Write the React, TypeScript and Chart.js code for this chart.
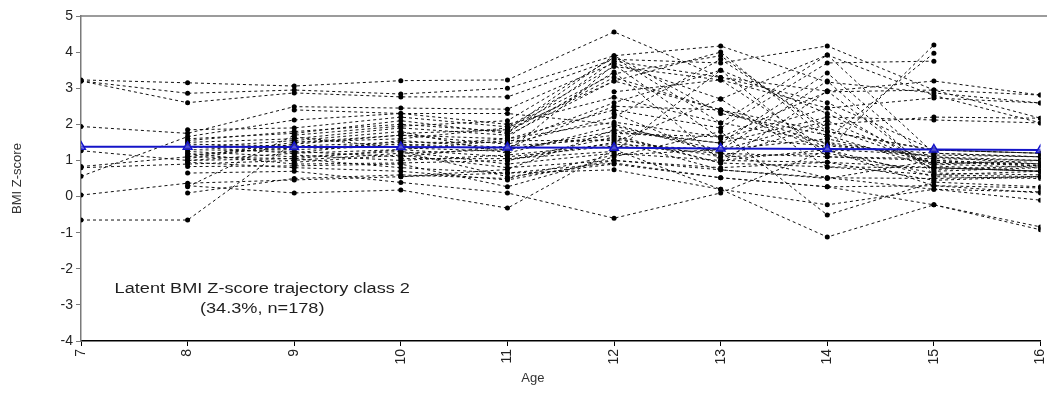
import React, { useEffect, useRef } from "react";
import { Chart, registerables } from "chart.js";

Chart.register(...registerables);

const AGES = [7, 8, 9, 10, 11, 12, 13, 14, 15, 16];
const Y_MIN = -4;
const Y_MAX = 5;
const X_TITLE = "Age";
const Y_TITLE = "BMI Z-score";
const NOTE_LINES = ["Latent BMI Z-score trajectory class 2", "(34.3%, n=178)"];
const NOTE_X = 8.7;
const NOTE_Y = [-2.56, -3.11];

// Estimated latent class mean trajectory (blue)
const CLASS_MEAN = [1.38, 1.38, 1.37, 1.37, 1.36, 1.35, 1.33, 1.32, 1.3, 1.29];

const INDIVIDUALS: (number | null)[][] = [
  [3.23, 3.15, 3.06, 3.21, 3.23, 4.56, 3.3, 2.92, 3.2, 2.81],
  [3.2, 2.86, 2.95, 2.84, 3.0, 3.9, 4.17, 3.17, 2.87, 2.59],
  [3.2, 2.6, 2.87, 2.76, 2.76, 3.8, 3.7, 4.17, 2.95, 2.17],
  [1.94, 1.75, 2.49, 2.45, 2.42, 3.7, 2.7, 3.92, 2.8, 2.04],
  [1.27, 1.0, 1.2, 1.3, 1.1, 1.4, 1.2, 1.1, 1.0, 0.9],
  [0.83, 1.1, 1.5, 1.6, 1.9, 3.4, 3.9, 1.8, 1.29, 1.2],
  [0.8, 0.9, 1.0, 1.2, 1.3, 1.8, 1.48, 3.42, 0.95, 0.85],
  [0.56, 1.66, 2.12, 2.3, 2.0, 2.75, 2.04, 1.5, 1.1, 1.0],
  [0.04, 0.37, 0.46, 0.55, 0.65, 0.93, 0.52, 0.27, 0.3, 0.24],
  [-0.65, -0.65, 1.5, 1.7, 1.6, 2.06, 1.65, 1.4, 1.2, 1.1],
  [null, 1.85, 1.9, 2.2, 1.93, 3.6, 3.23, 2.45, 2.73, 2.59],
  [null, 1.55, 1.8, 2.0, 1.8, 3.3, 2.4, 1.29, 4.2, null],
  [null, 1.5, 1.6, 1.9, 1.7, 3.2, 4.0, 1.6, 3.97, null],
  [null, 1.45, 1.4, 1.5, 1.5, 2.6, 3.5, 2.3, 0.9, 0.8],
  [null, 1.4, 1.3, 1.4, 1.6, 2.4, 1.9, 3.7, 3.75, null],
  [null, 1.35, 1.55, 1.8, 1.2, 1.95, 1.29, 2.1, 0.85, 0.7],
  [null, 1.3, 1.25, 1.1, 1.4, 1.6, 1.1, 2.0, 2.2, 2.17],
  [null, 1.25, 1.1, 1.25, 0.9, 1.2, 1.0, 0.95, 0.8, 0.7],
  [null, 1.2, 0.9, 0.93, 1.0, 1.5, 2.7, 0.82, 0.6, 0.55],
  [null, 1.15, 1.35, 1.45, 1.3, 1.7, 0.93, 2.92, 0.7, 0.8],
  [null, 1.1, 1.05, 0.8, 0.65, 0.74, 0.2, -0.23, 0.2, 0.13],
  [null, 0.95, 0.8, 0.7, 0.46, 1.0, 0.74, 0.52, 0.5, 0.55],
  [null, 0.83, 0.85, 0.9, 0.27, 1.1, 1.8, -0.51, 0.4, 0.27],
  [null, 0.65, 0.7, 0.39, 0.1, -0.6, 0.1, 1.29, 0.3, 0.1],
  [null, 0.3, 0.1, 0.18, -0.32, 1.3, 0.2, -1.12, -0.23, -0.84],
  [null, 0.27, 1.7, 1.95, 2.1, 3.85, 2.04, 3.92, 1.2, 1.1],
  [null, 0.1, 0.5, 0.6, 0.5, 1.15, 1.3, 1.6, 0.95, 0.9],
  [null, 1.6, 1.75, 2.1, 1.75, 3.75, 3.3, 2.6, 1.29, 1.2],
  [null, 1.05, 1.45, 1.7, 1.45, 2.2, 3.8, 1.9, 0.9, 1.0],
  [null, 1.38, 1.2, 1.55, 1.35, 2.5, 2.4, 1.45, 1.1, 0.9],
  [null, null, 1.65, 1.35, 1.25, 3.65, 1.6, 2.45, 0.75, 0.85],
  [null, null, 1.15, 1.0, 1.15, 1.45, 1.29, 3.2, 0.6, 0.7],
  [null, null, 0.95, 1.15, 0.8, 1.0, 0.8, 0.95, 0.45, 0.55],
  [null, null, 2.4, 2.3, 2.3, 2.0, 1.2, 0.52, 0.2, -0.1],
  [null, null, null, 1.05, 1.05, 1.25, 3.5, 1.1, 1.05, 1.0],
  [null, null, null, 1.75, 1.85, 3.9, 2.3, 1.7, 0.8, 0.7],
  [null, null, null, 1.25, 0.55, 0.9, 0.52, 0.27, -0.23, -0.92],
  [null, null, null, 0.55, 0.75, 1.85, 1.48, 2.2, 2.12, 2.04],
  [null, null, null, null, 1.65, 3.45, 1.0, 1.3, 1.15, 1.1],
  [null, null, null, null, 1.0, 1.65, 0.93, 0.82, 0.8, 0.7],
  [null, null, null, null, 1.85, 3.2, 2.4, 1.8, 1.29, 1.2],
  [null, null, null, null, null, 2.9, 3.23, 1.3, 0.55, 0.5],
  [null, null, null, null, null, 1.75, 1.65, 2.9, 2.95, 2.81],
  [null, null, null, null, null, 2.3, 1.1, 1.2, 0.65, 0.6],
  [null, 1.0, 1.05, 1.3, 1.55, 1.55, 0.74, 0.5, 1.0, 0.85],
];

const FONT = "Arial, 'Liberation Sans', sans-serif";

const overlayPlugin = {
  id: "overlay",
  afterDraw(chart: any) {
    const { ctx, chartArea, scales } = chart;
    ctx.save();
    // top frame line
    ctx.strokeStyle = "#7a7a7a";
    ctx.lineWidth = 1.5;
    ctx.beginPath();
    ctx.moveTo(chartArea.left, chartArea.top);
    ctx.lineTo(chart.width, chartArea.top);
    ctx.stroke();

    ctx.fillStyle = "#1e1e1e";
    ctx.textAlign = "center";
    ctx.textBaseline = "middle";
    // annotation (text slightly widened like the reference)
    ctx.font = `15.5px ${FONT}`;
    NOTE_LINES.forEach((line, i) => {
      const px = scales.x.getPixelForValue(NOTE_X);
      const py = scales.y.getPixelForValue(NOTE_Y[i]);
      ctx.save();
      ctx.translate(px, py);
      ctx.scale(1.17, 1);
      ctx.fillText(line, 0, 0);
      ctx.restore();
    });
    // axis titles
    ctx.font = `13px ${FONT}`;
    ctx.fillStyle = "#333";
    ctx.fillText(X_TITLE, chartArea.left + (chartArea.right - chartArea.left) * 0.471, chartArea.bottom + 37);
    ctx.translate(17, (chartArea.top + chartArea.bottom) / 2);
    ctx.rotate(-Math.PI / 2);
    ctx.fillText(Y_TITLE, 0, 0);
    ctx.restore();
  },
};

export default function App() {
  const ref = useRef<HTMLCanvasElement | null>(null);

  useEffect(() => {
    document.body.style.margin = "0";
    if (!ref.current) return;
    const toPoints = (vals: (number | null)[]) =>
      AGES.map((a, i) => ({ x: a, y: vals[i] }));

    const datasets: any[] = [
      {
        label: "Class mean",
        data: toPoints(CLASS_MEAN),
        borderColor: "#1414c8",
        borderWidth: 2,
        pointStyle: "triangle",
        pointRadius: 5,
        pointBorderColor: "#1414c8",
        pointBackgroundColor: "rgba(130,130,255,0.55)",
        pointBorderWidth: 1.5,
      },
      ...INDIVIDUALS.map((vals, k) => ({
        label: `Individual ${k + 1}`,
        data: toPoints(vals),
        borderColor: "#111",
        borderWidth: 1,
        borderDash: [3, 3],
        pointRadius: 2.5,
        pointBackgroundColor: "#000",
        pointBorderColor: "#000",
        pointBorderWidth: 0,
        spanGaps: false,
      })),
    ];

    const chart = new Chart(ref.current, {
      type: "line",
      data: { datasets },
      options: {
        animation: false,
        responsive: true,
        maintainAspectRatio: false,
        layout: { padding: { top: 16, right: 1, left: 0, bottom: 0 } },
        plugins: { legend: { display: false }, tooltip: { enabled: false } },
        elements: { line: { tension: 0 } },
        scales: {
          x: {
            type: "linear",
            min: AGES[0],
            max: AGES[AGES.length - 1],
            border: { display: true, color: "#000", width: 1.5 },
            grid: { display: true, drawOnChartArea: false, drawTicks: true, tickLength: 5, tickColor: "#000" },
            ticks: {
              stepSize: 1,
              minRotation: 90,
              maxRotation: 90,
              padding: 3,
              color: "#222",
              font: { family: FONT, size: 14 },
            },
            afterFit: (s: any) => {
              s.height = 53;
              s.paddingLeft = 0;
              s.paddingRight = 0;
            },
          },
          y: {
            type: "linear",
            min: Y_MIN,
            max: Y_MAX,
            border: { display: true, color: "#7a7a7a", width: 1.5 },
            grid: { display: true, drawOnChartArea: false, drawTicks: true, tickLength: 5, tickColor: "#7a7a7a" },
            ticks: {
              stepSize: 1,
              padding: 3,
              color: "#222",
              font: { family: FONT, size: 14 },
            },
            afterFit: (s: any) => {
              s.width = 81;
              s.paddingTop = 0;
              s.paddingBottom = 0;
            },
          },
        },
      },
      plugins: [overlayPlugin],
    });
    return () => chart.destroy();
  }, []);

  return (
    <div style={{ position: "fixed", left: 0, top: 0, width: 1047, height: 394, background: "#fff" }}>
      <canvas ref={ref} />
    </div>
  );
}
